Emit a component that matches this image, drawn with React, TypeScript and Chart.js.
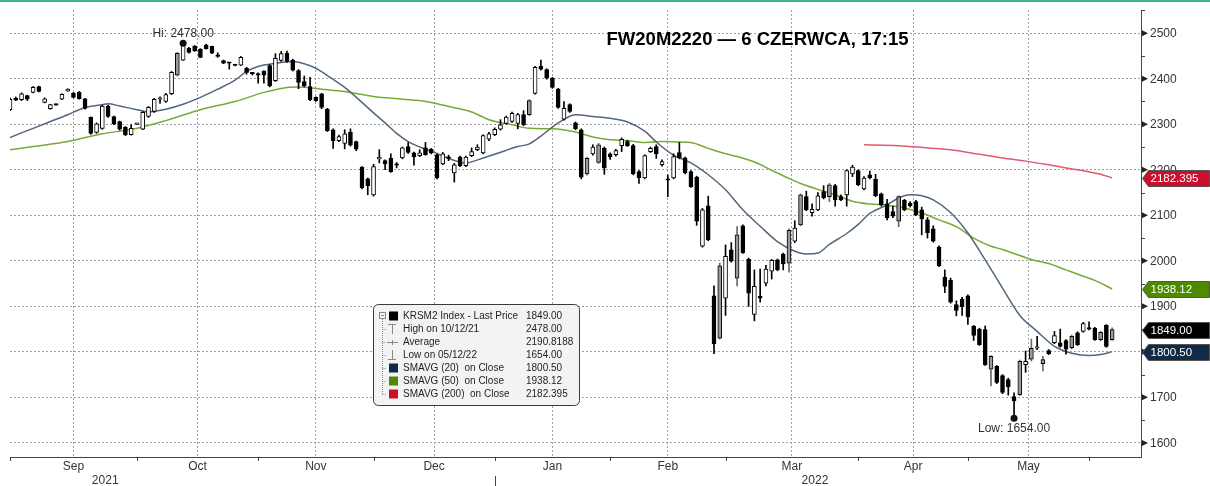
import { useEffect, useRef } from 'react';
import { Chart, registerables } from 'chart.js';

Chart.register(...registerables);

// ---- Daily candles (trading-day index 0 = 1 Sep 2021) ----
const opens = [
  2332, 2357, 2354, 2363, 2370, 2383, 2348, 2334, 2343, 2355,
  2373, 2368, 2370, 2356, 2315, 2282, 2291, 2340, 2317, 2306,
  2294, 2277, 2300, 2289, 2317, 2328, 2355, 2350, 2367, 2408,
  2441, 2467, 2472, 2465, 2474, 2471, 2450, 2440, 2435, 2430,
  2430, 2423, 2412, 2409, 2417, 2429, 2396, 2440, 2456, 2441,
  2418, 2394, 2383, 2359, 2367, 2333, 2288, 2264, 2258, 2282,
  2262, 2206, 2180, 2145, 2224, 2220, 2225, 2211, 2226, 2251,
  2237, 2231, 2248, 2245, 2233, 2213, 2227, 2193, 2228, 2209,
  2231, 2244, 2237, 2267, 2277, 2289, 2302, 2306, 2302, 2321,
  2321, 2368, 2428, 2420, 2401, 2377, 2311, 2343, 2303, 2288,
  2191, 2235, 2216, 2247, 2235, 2233, 2253, 2262, 2253, 2196,
  2182, 2240, 2251, 2211, 2178, 2182, 2238, 2226, 2196, 2184,
  2032, 2121, 1923, 1830, 1918, 2024, 1962, 2077, 2004, 1882,
  1922, 1951, 1977, 2002, 2015, 1995, 2043, 2079, 2141, 2106,
  2112, 2152, 2141, 2165, 2141, 2145, 2191, 2198, 2158, 2189,
  2179, 2147, 2125, 2108, 2087, 2133, 2127, 2130, 2112, 2090,
  2070, 2030, 1964, 1957, 1904, 1916, 1923, 1856, 1850, 1849,
  1762, 1768, 1748, 1739, 1702, 1706, 1772, 1784, 1808, 1774,
  1803, 1820, 1820, 1825, 1809, 1842, 1845, 1852, 1852, 1827,
  1858, 1827,
];
const highs = [
  2358, 2360, 2369, 2364, 2383, 2384, 2358, 2344, 2344, 2367,
  2378, 2370, 2372, 2357, 2316, 2303, 2342, 2342, 2318, 2307,
  2295, 2299, 2302, 2328, 2339, 2357, 2360, 2368, 2416, 2458,
  2478, 2469, 2473, 2466, 2476, 2472, 2457, 2441, 2436, 2431,
  2449, 2425, 2413, 2413, 2418, 2431, 2455, 2460, 2461, 2443,
  2420, 2406, 2403, 2360, 2368, 2335, 2290, 2276, 2288, 2290,
  2263, 2207, 2182, 2212, 2244, 2222, 2235, 2216, 2250, 2260,
  2239, 2244, 2260, 2247, 2235, 2238, 2232, 2214, 2230, 2230,
  2248, 2255, 2277, 2282, 2292, 2310, 2318, 2327, 2324, 2330,
  2354, 2427, 2441, 2422, 2403, 2379, 2350, 2345, 2305, 2290,
  2228, 2255, 2258, 2250, 2237, 2245, 2270, 2265, 2256, 2198,
  2233, 2250, 2255, 2222, 2189, 2235, 2260, 2228, 2198, 2186,
  2115, 2142, 1945, 1995, 2035, 2040, 2075, 2079, 2006, 1980,
  1982, 1990, 2003, 2004, 2017, 2070, 2088, 2147, 2153, 2125,
  2150, 2165, 2170, 2168, 2145, 2200, 2210, 2200, 2185, 2197,
  2190, 2149, 2135, 2120, 2143, 2135, 2130, 2133, 2118, 2095,
  2077, 2033, 1980, 1962, 1912, 1920, 1925, 1858, 1852, 1857,
  1792, 1770, 1750, 1742, 1710, 1782, 1802, 1828, 1834, 1790,
  1805, 1845, 1850, 1827, 1837, 1844, 1865, 1866, 1854, 1845,
  1860, 1853,
];
const lows = [
  2330, 2352, 2352, 2352, 2369, 2371, 2347, 2333, 2342, 2354,
  2372, 2358, 2355, 2333, 2278, 2280, 2289, 2315, 2299, 2287,
  2275, 2276, 2299, 2288, 2315, 2326, 2346, 2348, 2365, 2406,
  2440, 2456, 2460, 2446, 2465, 2455, 2447, 2433, 2421, 2428,
  2429, 2410, 2408, 2390, 2390, 2382, 2394, 2438, 2436, 2417,
  2378, 2382, 2352, 2350, 2334, 2284, 2247, 2262, 2246, 2252,
  2242, 2158, 2145, 2142, 2215, 2200, 2194, 2204, 2224, 2236,
  2210, 2229, 2232, 2235, 2180, 2211, 2220, 2173, 2207, 2207,
  2229, 2242, 2235, 2264, 2275, 2287, 2300, 2304, 2290, 2297,
  2319, 2366, 2419, 2399, 2379, 2335, 2309, 2326, 2288, 2180,
  2188, 2232, 2214, 2190, 2223, 2230, 2240, 2251, 2189, 2170,
  2180, 2238, 2225, 2208, 2141, 2180, 2224, 2191, 2161, 2078,
  2030, 2044, 1796, 1828, 1880, 1997, 1945, 2016, 1900, 1868,
  1909, 1945, 1960, 1978, 1980, 1975, 2040, 2077, 2110, 2098,
  2110, 2136, 2130, 2120, 2132, 2120, 2185, 2165, 2156, 2180,
  2141, 2120, 2090, 2095, 2075, 2110, 2118, 2099, 2057, 2050,
  2041, 1987, 1930, 1907, 1879, 1880, 1860, 1825, 1814, 1770,
  1725, 1730, 1708, 1705, 1654, 1704, 1755, 1780, 1805, 1758,
  1794, 1818, 1810, 1795, 1806, 1814, 1843, 1848, 1825, 1824,
  1810, 1825,
];
const closes = [
  2355, 2353, 2367, 2355, 2381, 2372, 2356, 2343, 2342, 2366,
  2377, 2359, 2356, 2335, 2280, 2301, 2340, 2317, 2301, 2289,
  2277, 2291, 2301, 2326, 2337, 2355, 2357, 2365, 2414, 2456,
  2474, 2458, 2461, 2447, 2466, 2456, 2449, 2434, 2434, 2429,
  2447, 2414, 2411, 2408, 2408, 2384, 2445, 2455, 2438, 2419,
  2392, 2384, 2354, 2352, 2337, 2286, 2264, 2273, 2279, 2254,
  2245, 2160, 2165, 2207, 2226, 2213, 2196, 2210, 2248, 2238,
  2228, 2237, 2233, 2237, 2182, 2235, 2225, 2211, 2209, 2228,
  2240, 2250, 2275, 2279, 2289, 2299, 2316, 2324, 2321, 2299,
  2352, 2425, 2421, 2401, 2381, 2337, 2335, 2328, 2290, 2184,
  2225, 2250, 2255, 2204, 2228, 2242, 2267, 2253, 2191, 2182,
  2231, 2247, 2235, 2218, 2177, 2229, 2226, 2193, 2163, 2087,
  2112, 2046, 1818, 1989, 2010, 1999, 2057, 2018, 1929, 1944,
  1918, 1982, 2001, 1980, 1993, 2067, 2072, 2145, 2112, 2113,
  2143, 2138, 2167, 2134, 2134, 2198, 2206, 2167, 2182, 2182,
  2143, 2123, 2094, 2098, 2141, 2112, 2121, 2101, 2092, 2062,
  2043, 1989, 1944, 1909, 1891, 1899, 1877, 1836, 1816, 1772,
  1790, 1733, 1711, 1723, 1692, 1779, 1779, 1808, 1809, 1783,
  1796, 1836, 1812, 1806, 1834, 1816, 1862, 1850, 1827, 1843,
  1812, 1849,
];
// candles shown in grey
const greyDays = [29, 90, 100, 102, 123, 126, 135, 137, 142, 154, 170, 175, 177, 179, 184, 189, 191];

// ---- Moving averages at these trading days ----
const sma20Days = [0, 4, 7, 10, 13, 16, 17, 19, 22, 24, 27, 30, 33, 36, 39, 41, 43, 46, 49, 51, 53, 55, 58, 61, 63, 65, 67, 69, 72, 74, 76, 79, 82, 84, 88, 90, 92, 95, 98, 101, 104, 107, 110, 112, 115, 118, 121, 124, 127, 130, 133, 136, 138, 140, 142, 145, 147, 149, 152, 154, 156, 158, 160, 163, 166, 169, 172, 175, 178, 181, 184, 187, 189, 191];
const sma20Values = [2271, 2291, 2306, 2321, 2337, 2343, 2345, 2340, 2332, 2327, 2333, 2344, 2359, 2377, 2397, 2416, 2427, 2434, 2438, 2433, 2423, 2407, 2381, 2348, 2325, 2303, 2280, 2262, 2245, 2236, 2225, 2215, 2226, 2234, 2251, 2257, 2274, 2303, 2321, 2317, 2313, 2305, 2285, 2261, 2232, 2215, 2189, 2156, 2112, 2076, 2042, 2021, 2015, 2017, 2036, 2060, 2080, 2104, 2123, 2138, 2145, 2143, 2134, 2106, 2061, 2002, 1940, 1880, 1845, 1812, 1797, 1792, 1794, 1800.5];

const sma50Days = [0, 4, 10, 16, 22, 27, 33, 39, 44, 48, 50, 54, 58, 63, 68, 72, 76, 80, 83, 87, 90, 94, 98, 101, 104, 107, 110, 113, 116, 118, 121, 124, 126, 129, 132, 135, 137, 140, 143, 146, 149, 152, 155, 158, 161, 164, 167, 170, 172, 174, 177, 180, 183, 186, 188, 191];
const sma50Values = [2244, 2251, 2262, 2279, 2291, 2308, 2332, 2350, 2370, 2381, 2382, 2377, 2372, 2361, 2355, 2350, 2339, 2327, 2310, 2299, 2291, 2290, 2283, 2272, 2266, 2264, 2260, 2262, 2261, 2260, 2247, 2235, 2229, 2217, 2199, 2181, 2170, 2157, 2145, 2131, 2125, 2122, 2116, 2105, 2090, 2075, 2050, 2032, 2025, 2016, 2003, 1994, 1980, 1966, 1957, 1938.12];

const sma200Days = [148, 154, 159, 163, 168, 172, 176, 180, 183, 186, 189, 191];
const sma200Values = [2255, 2253, 2248, 2244, 2234, 2226, 2219, 2211, 2204, 2198, 2190, 2182.395];

// ---- Axis data ----
const monthStarts = [0, 22, 43, 63, 84, 104, 124, 147, 166, 187];
const monthNames = ['Sep', 'Oct', 'Nov', 'Dec', 'Jan', 'Feb', 'Mar', 'Apr', 'May'];
const yearNames = ['2021', '2022'];
const yearLabelDays = [16.5, 139.5];
const yearBreakDay = 84;
const yTicks = [1600, 1700, 1800, 1900, 2000, 2100, 2200, 2300, 2400, 2500];
const yMinorTicks = [1650, 1750, 1850, 1950, 2050, 2150, 2250, 2350, 2450, 2550];
const totalSlots = 196;

// ---- Legend ----
const legendLabels = ['KRSM2 Index - Last Price', 'High on 10/12/21', 'Average', 'Low on 05/12/22', 'SMAVG (20)  on Close', 'SMAVG (50)  on Close', 'SMAVG (200)  on Close'];
const legendValues = ['1849.00', '2478.00', '2190.8188', '1654.00', '1800.50', '1938.12', '2182.395'];
const titleText = 'FW20M2220 \u2014 6 CZERWCA, 17:15';

const C_SMA20 = '#0F2B46';
const C_SMA50 = '#4E8A00';
const C_SMA200 = '#C8102E';
const FONT = '"Liberation Sans", Arial, sans-serif';

const hiIdx = highs.indexOf(Math.max(...highs));
const loIdx = lows.indexOf(Math.min(...lows));
const last = closes.length - 1;

const decorPlugin = {
  id: 'decor',
  beforeDraw(chart: any) {
    const { ctx } = chart;
    ctx.save();
    ctx.fillStyle = '#ffffff';
    ctx.fillRect(0, 0, chart.width, chart.height);
    ctx.restore();
  },
  afterDraw(chart: any) {
    const { ctx, chartArea: a } = chart;
    const x = chart.scales.x;
    const y = chart.scales.y;
    ctx.save();

    // top strip
    ctx.fillStyle = '#46B38F';
    ctx.fillRect(0, 0, chart.width, 2);

    // x tick marks
    ctx.strokeStyle = '#444';
    ctx.lineWidth = 1;
    monthStarts.forEach((m) => {
      const px = Math.round(x.getPixelForValue(m)) + 0.5;
      ctx.beginPath();
      ctx.moveTo(px, a.bottom);
      ctx.lineTo(px, a.bottom + 4);
      ctx.stroke();
    });
    // year separator
    const yb = Math.round(x.getPixelForValue(yearBreakDay)) + 0.5;
    ctx.beginPath();
    ctx.moveTo(yb, a.bottom + 19);
    ctx.lineTo(yb, chart.height);
    ctx.stroke();

    // month + year labels
    ctx.fillStyle = '#333';
    ctx.font = `12px ${FONT}`;
    ctx.textAlign = 'center';
    ctx.textBaseline = 'middle';
    monthNames.forEach((n, k) => {
      const c = (x.getPixelForValue(monthStarts[k]) + x.getPixelForValue(monthStarts[k + 1])) / 2;
      ctx.fillText(n, c, a.bottom + 10);
    });
    yearNames.forEach((n, k) => {
      ctx.fillText(n, x.getPixelForValue(yearLabelDays[k]), a.bottom + 24);
    });

    // y axis minor ticks
    ctx.strokeStyle = '#444';
    yMinorTicks.forEach((v) => {
      const py = Math.round(y.getPixelForValue(v)) + 0.5;
      if (py < a.top || py > a.bottom) return;
      ctx.beginPath();
      ctx.moveTo(a.right, py);
      ctx.lineTo(a.right + 4, py);
      ctx.stroke();
    });
    // y major ticks: triangles + labels
    ctx.textAlign = 'left';
    yTicks.forEach((v) => {
      const py = y.getPixelForValue(v);
      ctx.fillStyle = '#222';
      ctx.beginPath();
      ctx.moveTo(a.right + 1, py - 3);
      ctx.lineTo(a.right + 7, py);
      ctx.lineTo(a.right + 1, py + 3);
      ctx.closePath();
      ctx.fill();
      ctx.fillStyle = '#333';
      ctx.fillText(String(v), a.right + 9, py + 0.5);
    });

    // value tags
    const tag = (val: number, text: string, fill: string) => {
      const py = Math.round(y.getPixelForValue(val)) + 0.5;
      const x0 = a.right + 1.5;
      const h = 8;
      ctx.beginPath();
      ctx.moveTo(x0, py);
      ctx.lineTo(x0 + 6, py - h);
      ctx.lineTo(chart.width - 0.5, py - h);
      ctx.lineTo(chart.width - 0.5, py + h);
      ctx.lineTo(x0 + 6, py + h);
      ctx.closePath();
      ctx.fillStyle = fill;
      ctx.fill();
      ctx.strokeStyle = '#555';
      ctx.lineWidth = 1;
      ctx.stroke();
      ctx.fillStyle = '#ffffff';
      ctx.font = `11.5px ${FONT}`;
      ctx.textAlign = 'left';
      ctx.textBaseline = 'middle';
      ctx.fillText(text, x0 + 8, py + 0.5);
    };
    tag(sma200Values[sma200Values.length - 1], legendValues[6], C_SMA200);
    tag(sma50Values[sma50Values.length - 1], legendValues[5], C_SMA50);
    tag(closes[last], legendValues[0], '#000000');
    tag(sma20Values[sma20Values.length - 1], legendValues[4], C_SMA20);

    // Hi / Low annotations
    ctx.fillStyle = '#333';
    ctx.font = `12px ${FONT}`;
    ctx.textAlign = 'center';
    ctx.textBaseline = 'middle';
    ctx.fillText('Hi: ' + highs[hiIdx].toFixed(2), x.getPixelForValue(hiIdx), y.getPixelForValue(highs[hiIdx]) - 10);
    ctx.fillText('Low: ' + lows[loIdx].toFixed(2), x.getPixelForValue(loIdx), y.getPixelForValue(lows[loIdx]) + 10);

    // title
    ctx.fillStyle = '#000';
    ctx.font = `bold 18.5px ${FONT}`;
    ctx.fillText(titleText, 757.5, 40);

    // legend box
    const bx = 373.5, by = 304.5, bw = 206, bh = 101;
    ctx.beginPath();
    ctx.roundRect(bx, by, bw, bh, 5);
    ctx.fillStyle = '#F3F3F3';
    ctx.fill();
    ctx.strokeStyle = '#3a3a3a';
    ctx.lineWidth = 1;
    ctx.stroke();

    const rowY = (k: number) => 316 + k * 13;
    // tree
    ctx.strokeStyle = '#8a8a8a';
    ctx.strokeRect(379.5, 312.5, 6, 6);
    ctx.beginPath();
    ctx.moveTo(381, 315.5); ctx.lineTo(384, 315.5);
    ctx.stroke();
    ctx.setLineDash([1, 1]);
    ctx.beginPath();
    ctx.moveTo(382.5, 319); ctx.lineTo(382.5, rowY(6));
    for (let k = 1; k < 7; k++) {
      ctx.moveTo(382.5, rowY(k) + 0.5); ctx.lineTo(386.5, rowY(k) + 0.5);
    }
    ctx.stroke();
    ctx.setLineDash([]);
    // icons
    ctx.strokeStyle = '#888';
    ctx.beginPath();
    ctx.moveTo(388, rowY(1) - 4.5); ctx.lineTo(396, rowY(1) - 4.5);
    ctx.moveTo(392.5, rowY(1) - 4.5); ctx.lineTo(392.5, rowY(1) + 5);
    ctx.moveTo(387, rowY(2) + 0.5); ctx.lineTo(398, rowY(2) + 0.5);
    ctx.moveTo(392.5, rowY(2) - 2); ctx.lineTo(392.5, rowY(2) + 3);
    ctx.moveTo(392.5, rowY(3) - 5); ctx.lineTo(392.5, rowY(3) + 4.5);
    ctx.moveTo(388, rowY(3) + 4.5); ctx.lineTo(396, rowY(3) + 4.5);
    ctx.stroke();
    const swatch = (k: number, c: string) => {
      ctx.fillStyle = c;
      ctx.fillRect(389, rowY(k) - 4.5, 9, 9);
    };
    swatch(0, '#000000');
    swatch(4, C_SMA20);
    swatch(5, C_SMA50);
    swatch(6, C_SMA200);
    ctx.fillStyle = '#1e1e1e';
    ctx.font = `10px ${FONT}`;
    ctx.textAlign = 'left';
    legendLabels.forEach((t, k) => {
      ctx.fillText(t, 403, rowY(k) + 0.5);
      ctx.fillText(legendValues[k], 526, rowY(k) + 0.5);
    });

    ctx.restore();
  },
};

export default function App() {
  const ref = useRef<HTMLCanvasElement | null>(null);

  useEffect(() => {
    document.body.style.margin = '0';
    const canvas = ref.current;
    if (!canvas) return;

    const bodies = opens.map((o, i) => ({ x: i, y: [Math.min(o, closes[i]), Math.max(o, closes[i])] }));
    const wicks = lows.map((l, i) => ({ x: i, y: [l, highs[i]] }));
    const bodyColors = opens.map((o, i) =>
      greyDays.includes(i) ? '#9a9a9a' : closes[i] >= o ? '#ffffff' : '#000000'
    );
    const wickColors = opens.map((_, i) => (greyDays.includes(i) ? '#6a6a6a' : '#000000'));
    const toPts = (d: number[], v: number[]) => d.map((day, k) => ({ x: day, y: v[k] }));

    const chart = new Chart(canvas, {
      type: 'bar',
      data: {
        datasets: [
          {
            type: 'line',
            data: [
              { x: hiIdx, y: highs[hiIdx] },
              { x: loIdx, y: lows[loIdx] },
            ],
            showLine: false,
            pointRadius: 3.5,
            pointBackgroundColor: '#111',
            pointBorderWidth: 0,
          } as any,
          {
            type: 'bar',
            data: bodies as any,
            backgroundColor: bodyColors,
            borderColor: '#000000',
            borderWidth: 1,
            borderSkipped: false,
            barThickness: 4,
            minBarLength: 1.5,
            grouped: false,
          } as any,
          {
            type: 'bar',
            data: wicks as any,
            backgroundColor: wickColors,
            borderWidth: 0,
            barThickness: 1,
            grouped: false,
          } as any,
          {
            type: 'line',
            data: toPts(sma20Days, sma20Values),
            borderColor: '#52667D',
            borderWidth: 1.5,
            pointRadius: 0,
            cubicInterpolationMode: 'monotone',
          } as any,
          {
            type: 'line',
            data: toPts(sma50Days, sma50Values),
            borderColor: '#78AA35',
            borderWidth: 1.5,
            pointRadius: 0,
            cubicInterpolationMode: 'monotone',
          } as any,
          {
            type: 'line',
            data: toPts(sma200Days, sma200Values),
            borderColor: '#E05A70',
            borderWidth: 1.5,
            pointRadius: 0,
            cubicInterpolationMode: 'monotone',
          } as any,
        ],
      },
      options: {
        animation: false,
        responsive: false,
        maintainAspectRatio: false,
        layout: { padding: { left: 10, top: 10, right: 69, bottom: 29 } },
        plugins: { legend: { display: false }, tooltip: { enabled: false } },
        scales: {
          x: {
            type: 'linear',
            min: 0,
            max: totalSlots,
            offset: false,
            afterBuildTicks: (s: any) => {
              s.ticks = monthStarts.map((v) => ({ value: v }));
            },
            ticks: { display: false },
            grid: { color: '#a0a0a0', lineWidth: 1, drawTicks: false },
            border: { display: true, color: '#444', width: 1, dash: [2, 2] },
          },
          y: {
            type: 'linear',
            position: 'right',
            min: 1569,
            max: 2551,
            afterBuildTicks: (s: any) => {
              s.ticks = yTicks.map((v) => ({ value: v }));
            },
            ticks: { display: false },
            grid: { color: '#a0a0a0', lineWidth: 1, drawTicks: false },
            border: { display: true, color: '#444', width: 1, dash: [2, 2] },
          },
        },
      } as any,
      plugins: [decorPlugin],
    });

    return () => chart.destroy();
  }, []);

  return (
    <div style={{ width: 1210, height: 486, background: '#fff' }}>
      <canvas ref={ref} width={1210} height={486} style={{ display: 'block' }} />
    </div>
  );
}
